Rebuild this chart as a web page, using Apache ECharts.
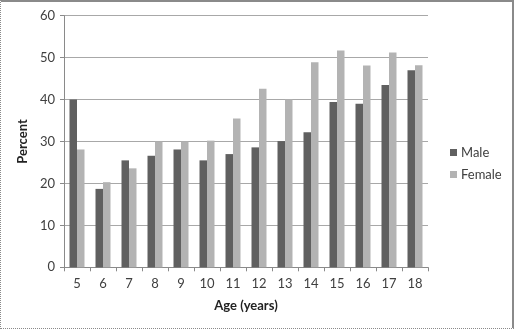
<!DOCTYPE html>
<html>
<head>
<meta charset="utf-8">
<script src="https://cdn.jsdelivr.net/npm/echarts@6/dist/echarts.min.js"></script>
<style>
html,body{margin:0;padding:0;background:#fff;}
#frame{position:absolute;left:0;top:0;width:514px;height:329px;box-sizing:border-box;
 border-top:2px solid #8a8a8a;border-right:2px solid #8a8a8a;border-left:1px dotted #8a8a8a;border-bottom:1px dotted #8a8a8a;}
#chart{position:absolute;left:0;top:0;width:514px;height:329px;}
</style>
</head>
<body>
<div id="frame"></div>
<div id="chart"></div>
<script>
const categories = ['5','6','7','8','9','10','11','12','13','14','15','16','17','18'];
const maleValues = [40, 18.7, 25.5, 26.6, 28.1, 25.5, 27.0, 28.6, 30.1, 32.2, 39.4, 39.0, 43.5, 47.0];
const femaleValues = [28.1, 20.3, 23.6, 30.0, 30.0, 30.2, 35.5, 42.6, 40.0, 48.9, 51.7, 48.1, 51.2, 48.2];
const yTicks = {min: 0, max: 60, interval: 10};

const font = 'Lato, "Open Sans", sans-serif';
const chart = echarts.init(document.getElementById('chart'), null, {renderer: 'canvas'});
chart.setOption({
  animation: false,
  textStyle: {fontFamily: font},
  grid: {left: 64, right: 86, top: 15.7, bottom: 61.7, containLabel: false},
  legend: {
    orient: 'vertical', left: 450, top: 146, padding: 0,
    itemWidth: 7, itemHeight: 7, itemGap: 9,
    icon: 'rect',
    textStyle: {fontFamily: font, fontSize: 13, color: '#404040', padding: [0,0,0,-1]},
    data: ['Male', 'Female']
  },
  xAxis: {
    type: 'category', data: categories,
    name: 'Age (years)', nameLocation: 'middle', nameGap: 32,
    nameTextStyle: {fontFamily: font, fontSize: 13, fontWeight: 'bold', color: '#222'},
    axisLine: {lineStyle: {color: '#8a8a8a', width: 1}},
    axisTick: {show: true, length: 4, lineStyle: {color: '#8a8a8a'}},
    axisLabel: {fontFamily: font, fontSize: 13, color: '#404040', margin: 10}
  },
  yAxis: {
    type: 'value', min: yTicks.min, max: yTicks.max, interval: yTicks.interval,
    name: 'Percent', nameLocation: 'middle', nameGap: 30, nameRotate: 90,
    nameTextStyle: {fontFamily: font, fontSize: 13, fontWeight: 'bold', color: '#222'},
    axisLine: {show: true, lineStyle: {color: '#8a8a8a', width: 1}},
    axisTick: {show: true, length: 4, lineStyle: {color: '#8a8a8a'}},
    axisLabel: {fontFamily: font, fontSize: 13, color: '#404040', margin: 9},
    splitLine: {lineStyle: {color: '#a8a8a8', width: 1}}
  },
  series: [
    {name: 'Male', type: 'bar', data: maleValues, barWidth: 7.5, barGap: '0%',
     itemStyle: {color: '#606060'}},
    {name: 'Female', type: 'bar', data: femaleValues, barWidth: 7.5,
     itemStyle: {color: '#b3b3b3'}}
  ]
});
</script>
</body>
</html>
